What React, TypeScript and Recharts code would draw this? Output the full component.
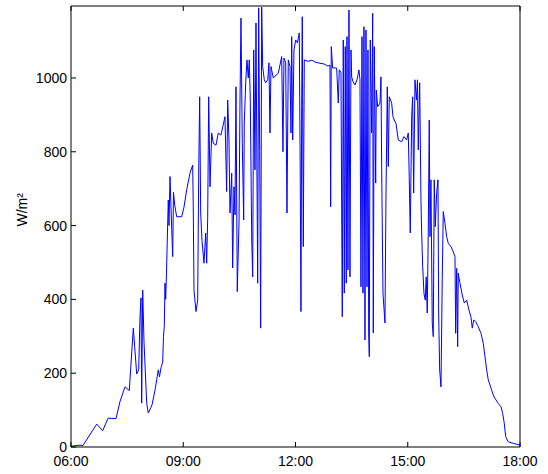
import React from 'react';
import {Line, LineChart, XAxis, YAxis} from 'recharts';

// hours of the day (decimal) and irradiance in W/m²
const hours = [
    6.0, 6.24, 6.32, 6.687, 6.847, 6.989, 7.203, 7.309, 7.443, 7.558, 7.665, 7.702, 7.756, 7.809, 7.844, 7.871,
    7.889, 7.916, 7.951, 8.023, 8.066, 8.165, 8.245, 8.29, 8.333, 8.365, 8.405, 8.451, 8.472, 8.493, 8.512, 8.531,
    8.552, 8.573, 8.6, 8.619, 8.646, 8.672, 8.718, 8.739, 8.779, 8.825, 8.958, 9.02, 9.092, 9.18, 9.252, 9.268,
    9.287, 9.34, 9.386, 9.413, 9.439, 9.466, 9.501, 9.554, 9.6, 9.626, 9.653, 9.68, 9.715, 9.76, 9.803, 9.875,
    9.936, 10.008, 10.115, 10.16, 10.188, 10.222, 10.249, 10.295, 10.321, 10.356, 10.383, 10.409, 10.444, 10.49,
    10.516, 10.543, 10.578, 10.615, 10.631, 10.669, 10.703, 10.738, 10.765, 10.792, 10.83, 10.856, 10.883, 10.917,
    10.944, 10.989, 11.016, 11.043, 11.069, 11.096, 11.123, 11.166, 11.203, 11.257, 11.291, 11.318, 11.345, 11.406,
    11.54, 11.631, 11.665, 11.692, 11.738, 11.772, 11.807, 11.852, 11.879, 11.898, 11.925, 11.959, 12.005, 12.053,
    12.101, 12.128, 12.146, 12.165, 12.181, 12.208, 12.235, 12.333, 12.44, 12.547, 12.654, 12.761, 12.868, 12.921,
    12.94, 12.956, 12.993, 13.1, 13.143, 13.17, 13.215, 13.25, 13.277, 13.304, 13.33, 13.357, 13.376, 13.402,
    13.429, 13.456, 13.483, 13.501, 13.536, 13.589, 13.643, 13.696, 13.723, 13.75, 13.777, 13.803, 13.83, 13.857,
    13.884, 13.911, 13.937, 13.956, 13.972, 13.998, 14.036, 14.063, 14.079, 14.105, 14.143, 14.159, 14.196, 14.258,
    14.284, 14.303, 14.338, 14.391, 14.418, 14.453, 14.48, 14.506, 14.57, 14.605, 14.64, 14.685, 14.747, 14.837,
    14.899, 14.971, 15.014, 15.041, 15.067, 15.105, 15.131, 15.158, 15.193, 15.233, 15.26, 15.281, 15.319, 15.353,
    15.372, 15.399, 15.433, 15.468, 15.494, 15.521, 15.548, 15.575, 15.594, 15.62, 15.655, 15.682, 15.708, 15.735,
    15.773, 15.808, 15.826, 15.853, 15.888, 15.922, 15.949, 15.995, 16.04, 16.083, 16.155, 16.217, 16.262, 16.281,
    16.308, 16.334, 16.35, 16.395, 16.457, 16.511, 16.575, 16.636, 16.689, 16.724, 16.762, 16.815, 16.885, 16.957,
    17.018, 17.064, 17.109, 17.152, 17.243, 17.285, 17.331, 17.419, 17.491, 17.537, 17.58, 17.617, 17.686, 17.82,
    18.0
];

const irradiance = [
    2, 5, 4, 62, 44, 78, 77, 123, 163, 153, 322, 272, 198, 209, 353, 404,
    119, 425, 285, 119, 92, 114, 154, 182, 209, 190, 215, 230, 300, 326, 444, 400,
    471, 561, 669, 600, 733, 650, 516, 690, 651, 624, 624, 650, 697, 742, 764, 648,
    425, 367, 398, 742, 949, 634, 560, 498, 580, 498, 620, 949, 705, 851, 823, 818,
    851, 845, 895, 692, 940, 832, 634, 742, 485, 705, 629, 976, 421, 607,
    932, 1162, 823, 615, 878, 987, 1049, 1000, 1049, 940, 561, 461, 1076, 751,
    1149, 444, 1190, 800, 322, 1192, 1031, 995, 987, 995, 1041, 851, 1031, 1000,
    1013, 1058, 800, 1054, 1041, 634, 1049, 1031, 851, 1112, 832, 1076, 1103, 1095,
    1122, 715, 367, 922, 1166, 543, 1049, 1045, 1048, 1042, 1040, 1038, 1032, 1035,
    651, 1085, 1027, 1027, 932, 1022, 1015, 353, 1103, 417, 1085, 444, 1112, 480,
    1184, 461, 1076, 1003, 990, 981, 995, 1022, 995, 434, 1112, 417, 1139, 290,
    1130, 434, 1076, 309, 245, 1103, 851, 1175, 309, 1085, 715, 967, 922, 932,
    1003, 760, 417, 336, 678, 976, 760, 949, 932, 895, 886, 877, 832, 827,
    841, 832, 851, 724, 580, 895, 949, 688, 995, 940, 995, 805, 987, 669,
    580, 489, 417, 398, 461, 363, 580, 886, 570, 724, 336, 299, 724, 597,
    688, 724, 363, 209, 163, 453, 638, 606, 570, 552, 543, 529, 516, 308,
    484, 272, 471, 444, 412, 390, 398, 371, 353, 322, 344, 340, 326, 308,
    281, 245, 209, 182, 154, 141, 132, 118, 109, 91, 64, 28, 14, 10,
    5
];

const xTicks = [6, 9, 12, 15, 18];
const xTickLabels = ['06:00', '09:00', '12:00', '15:00', '18:00'];
const yTicks = [0, 200, 400, 600, 800, 1000];

const data = hours.map((h, i) => ({t: h, wm2: irradiance[i]}));

const font = {fontFamily: 'Liberation Sans, Arial, sans-serif', fontSize: 14, fill: '#000'};

const App = () => {
    return (
        <div style={{position: 'absolute', left: 0, top: 0}}>
            <LineChart
                width={548}
                height={474}
                data={data}
                margin={{top: 5, right: 23, left: 26, bottom: 2}}
            >
                <XAxis
                    dataKey="t"
                    type="number"
                    domain={[6, 18]}
                    ticks={xTicks}
                    tickFormatter={(v) => xTickLabels[xTicks.indexOf(v)]}
                    tick={font}
                    tickSize={-5}
                    tickMargin={14}
                    height={25}
                    stroke="#000"
                    interval={0}
                />
                <XAxis
                    xAxisId="top"
                    orientation="top"
                    dataKey="t"
                    type="number"
                    domain={[6, 18]}
                    ticks={xTicks}
                    tickFormatter={() => ''}
                    tickSize={-5}
                    height={1}
                    stroke="#000"
                />
                <YAxis
                    type="number"
                    domain={[0, 1195]}
                    ticks={yTicks}
                    tick={font}
                    tickSize={-5}
                    tickMargin={9}
                    width={45}
                    stroke="#000"
                    allowDataOverflow
                    label={{value: 'W/m²', angle: -90, position: 'insideLeft', offset: -4, style: font}}
                />
                <YAxis
                    yAxisId="right"
                    orientation="right"
                    type="number"
                    domain={[0, 1195]}
                    ticks={yTicks}
                    tickFormatter={() => ''}
                    tickSize={-5}
                    width={5}
                    stroke="#000"
                />
                <Line
                    type="linear"
                    dataKey="wm2"
                    stroke="#0000ff"
                    strokeWidth={1}
                    dot={false}
                    isAnimationActive={false}
                />
            </LineChart>
        </div>
    );
};

export default App;
